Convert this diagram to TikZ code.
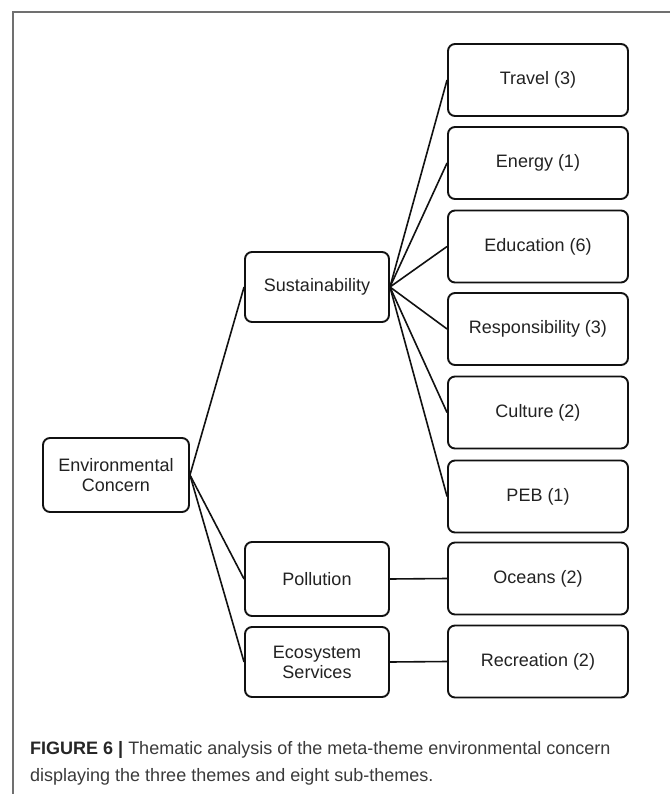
\documentclass[tikz,border=0pt]{standalone}
\usepackage{fontspec}
\setmainfont{Liberation Sans}
\definecolor{boxline}{HTML}{111111}
\definecolor{boxtext}{HTML}{222222}
\definecolor{framegray}{HTML}{707070}
\definecolor{captext}{HTML}{3A3A3A}
\begin{document}
\begin{tikzpicture}[x=1pt,y=-1pt,
  box/.style={draw=boxline, line width=1.9pt, rounded corners=7pt, inner sep=0pt,
    align=center, text=boxtext, font=\fontsize{18}{20}\selectfont},
  rbox/.style={box, minimum width=180pt, minimum height=72pt},
  mbox/.style={box, minimum width=144pt},
  conn/.style={draw=boxline, line width=1.6pt},
  frame/.style={draw=framegray, line width=1.2pt},
  captxt/.style={anchor=base west, inner sep=0pt, text=captext, font=\fontsize{18}{20}\selectfont}]
\useasboundingbox (0,0) rectangle (670,794);
\fill[white] (0,0) rectangle (670,794);
% frame
\coordinate (fbl) at (13,794);
\coordinate (ftl) at (13,12);
\coordinate (ftr) at (670,12);
\draw[frame] (fbl) -- (ftl) -- (ftr);
% right column
\node[rbox] (travel) at (538,80) {Travel (3)};
\node[rbox] (energy) at (538,163) {Energy (1)};
\node[rbox] (edu) at (538,246.5) {Education (6)};
\node[rbox] (resp) at (538,329) {Responsibility (3)};
\node[rbox] (culture) at (538,412.5) {Culture (2)};
\node[rbox] (peb) at (538,496.5) {PEB (1)};
\node[rbox] (oceans) at (538,578.5) {Oceans (2)};
\node[rbox] (recr) at (538,661.5) {Recreation (2)};
% middle column
\node[mbox, minimum height=70pt] (sus) at (317,287) {Sustainability};
\node[mbox, minimum height=74pt] (poll) at (317,579) {Pollution};
\node[mbox, minimum height=70pt] (eco) at (317,662) {Ecosystem\\Services};
% root
\node[box, minimum width=146pt, minimum height=74pt] (env) at (116,475) {Environmental\\Concern};
% connectors
\foreach \t in {travel,energy,edu,resp,culture,peb}
  \draw[conn] (sus.east) -- (\t.west);
\draw[conn] (env.east) -- (sus.west);
\draw[conn] (env.east) -- (poll.west);
\draw[conn] (env.east) -- (eco.west);
\draw[conn] (poll.east) -- (oceans.west);
\draw[conn] (eco.east) -- (recr.west);
% caption
\node[captxt] (cap1) at (30,754) {{\color{black!85}\bfseries FIGURE 6 |} Thematic analysis of the meta-theme environmental concern};
\node[captxt] (cap2) at (30,781) {displaying the three themes and eight sub-themes.};
\end{tikzpicture}
\end{document}
